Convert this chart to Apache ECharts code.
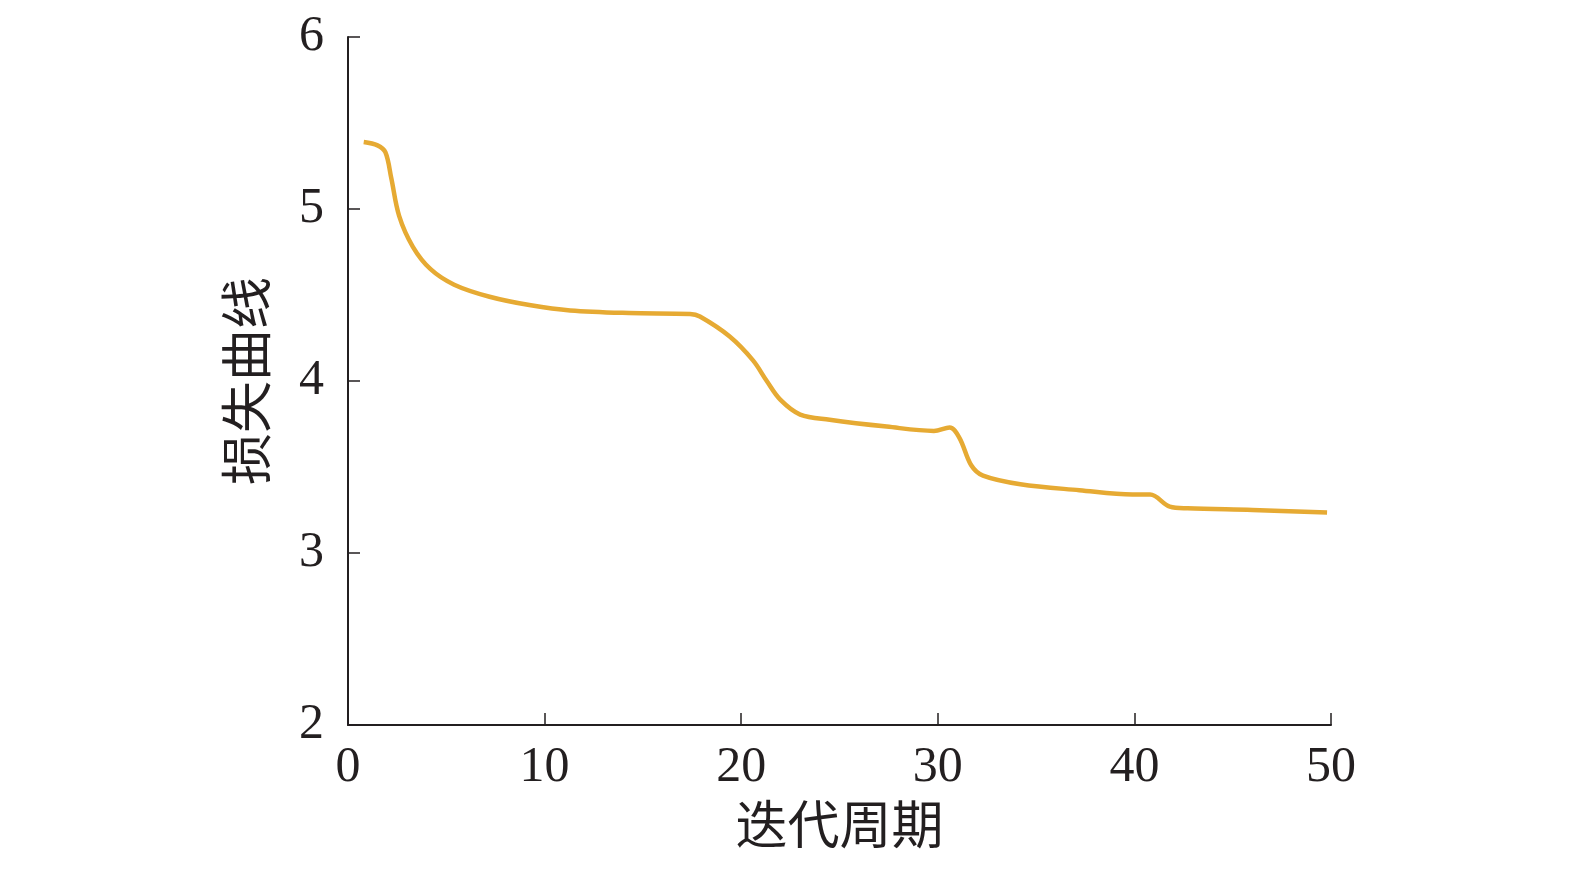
<!DOCTYPE html>
<html>
<head>
<meta charset="utf-8">
<title>损失曲线</title>
<script src="https://cdn.jsdelivr.net/npm/echarts@6/dist/echarts.min.js"></script>
<style>
  html, body { margin: 0; padding: 0; background: #fff; }
  #chart { width: 1575px; height: 872px; }
</style>
</head>
<body>
<div id="chart"></div>
<script>
// 迭代周期 (x) 与 损失 (y)
var epochs = [0.8, 1.5, 1.9, 2.2, 2.6, 3.3, 4.2, 5.4, 7.2, 9.3, 11.3, 14.3, 17.4, 17.9,
  19.4, 20.6, 21.3, 22.0, 23.0, 24.5, 27.4, 29.8, 30.6, 31.1, 31.7, 32.3, 34.2,
  37.2, 39.9, 40.8, 41.8, 42.7, 46.0, 49.8];
var loss = [5.39, 5.37, 5.33, 5.18, 4.96, 4.78, 4.65, 4.56, 4.49, 4.44, 4.41, 4.395, 4.39, 4.375,
  4.26, 4.12, 4.00, 3.89, 3.805, 3.775, 3.735, 3.71, 3.73, 3.67, 3.51, 3.45, 3.40,
  3.365, 3.34, 3.34, 3.27, 3.26, 3.25, 3.235];
var xTicks = [0, 10, 20, 30, 40, 50];
var yTicks = [2, 3, 4, 5, 6];

var serif = '"Liberation Serif", "Noto Sans CJK SC", serif';
var cjk = '"Noto Sans CJK SC", "Liberation Serif", serif';

var axisStyle = {
  axisLine: { show: true, lineStyle: { color: "#231f20", width: 2 } },
  axisTick: { show: true, inside: true, length: 12, lineStyle: { color: "#231f20", width: 1.5 } },
  splitLine: { show: false },
  axisLabel: { color: "#231f20", fontFamily: serif, fontSize: 50 },
  nameTextStyle: { color: "#231f20", fontFamily: cjk, fontSize: 52 }
};

var chart = echarts.init(document.getElementById("chart"), null, { renderer: "canvas" });
chart.setOption({
  animation: false,
  grid: { left: 348, right: 244, top: 37, bottom: 147, containLabel: false },
  xAxis: Object.assign({}, axisStyle, {
    type: "value",
    min: xTicks[0],
    max: xTicks[xTicks.length - 1],
    interval: 10,
    name: "迭代周期",
    nameLocation: "middle",
    nameGap: 70,
    axisLabel: Object.assign({}, axisStyle.axisLabel, { margin: 18 })
  }),
  yAxis: Object.assign({}, axisStyle, {
    type: "value",
    min: yTicks[0],
    max: yTicks[yTicks.length - 1],
    interval: 1,
    name: "损失曲线",
    nameLocation: "middle",
    nameGap: 76,
    axisLabel: Object.assign({}, axisStyle.axisLabel, { margin: 24 })
  }),
  series: [{
    type: "line",
    data: epochs.map(function (e, i) { return [e, loss[i]]; }),
    smooth: 0.35,
    showSymbol: false,
    lineStyle: { color: "#E6AA33", width: 4.5 }
  }]
});
</script>
</body>
</html>
